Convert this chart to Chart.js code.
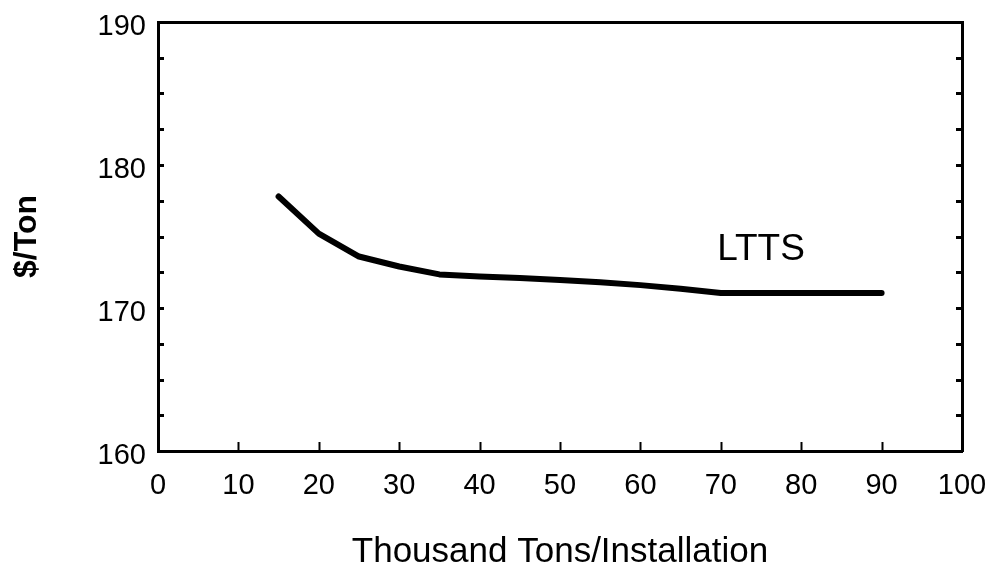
<!DOCTYPE html>
<html>
<head>
<meta charset="utf-8">
<script src="https://cdn.jsdelivr.net/npm/chart.js@4"></script>
<style>
    html, body { margin: 0; padding: 0; background: #fff; }
    #wrap { width: 990px; height: 573px; }
</style>
</head>
<body>
<div id="wrap"><canvas id="costChart" width="990" height="573"></canvas></div>
<script>
// values
const tonsK = [15, 20, 25, 30, 35, 40, 45, 50, 55, 60, 65, 70, 75, 80, 85, 90];
const costLTTS = [177.8, 175.2, 173.6, 172.9, 172.35, 172.2, 172.1, 171.95, 171.8, 171.6, 171.35, 171.05, 171.05, 171.05, 171.05, 171.05];
const xTickValues = [0, 10, 20, 30, 40, 50, 60, 70, 80, 90, 100];
const yTickValues = [160, 170, 180, 190];
const seriesName = "LTTS";
const seriesLabelAt = { x: 75, y: 174.05 };

const FONT = "'Liberation Sans', Arial, Helvetica, sans-serif";

// small inward tick marks + series label, like the original plot
const frameTicks = {
    id: 'frameTicks',
    afterDatasetsDraw(chart) {
        const ctx = chart.ctx;
        const x = chart.scales.x;
        const y = chart.scales.y;
        const area = chart.chartArea;
        ctx.save();
        ctx.strokeStyle = '#000';

        // bottom: every 10
        ctx.lineWidth = 2;
        xTickValues.forEach(v => {
            if (v === x.min || v === x.max) return;
            const px = Math.round(x.getPixelForValue(v)) + 0.5;
            ctx.beginPath();
            ctx.moveTo(px, area.bottom);
            ctx.lineTo(px, area.bottom - 9);
            ctx.stroke();
        });

        // left and right: every 2.5
        ctx.lineWidth = 3;
        for (let v = y.min + 2.5; v < y.max; v += 2.5) {
            const py = Math.round(y.getPixelForValue(v)) + 0.5;
            ctx.beginPath();
            ctx.moveTo(area.left, py);
            ctx.lineTo(area.left + 6, py);
            ctx.moveTo(area.right, py);
            ctx.lineTo(area.right - 6, py);
            ctx.stroke();
        }

        ctx.fillStyle = '#000';
        ctx.font = '37px ' + FONT;
        ctx.textAlign = 'center';
        ctx.textBaseline = 'middle';
        ctx.fillText(seriesName, x.getPixelForValue(seriesLabelAt.x), y.getPixelForValue(seriesLabelAt.y));
        ctx.restore();
    }
};

function fixedTicks(values) {
    return function (scale) {
        scale.ticks = values.map(v => ({ value: v }));
    };
}

const ctx = document.getElementById('costChart').getContext('2d');
new Chart(ctx, {
    type: 'line',
    data: {
        datasets: [{
            label: seriesName,
            data: tonsK.map((t, i) => ({ x: t, y: costLTTS[i] })),
            borderColor: '#000',
            borderWidth: 6,
            borderCapStyle: 'round',
            borderJoinStyle: 'round',
            pointRadius: 0,
            tension: 0,
            fill: false
        }]
    },
    options: {
        responsive: false,
        animation: false,
        layout: { padding: 0 },
        plugins: {
            legend: { display: false },
            tooltip: { enabled: false }
        },
        scales: {
            x: {
                type: 'linear',
                position: 'bottom',
                min: 0,
                max: 100,
                afterBuildTicks: fixedTicks(xTickValues),
                afterFit: function (scale) {
                    scale.height = 122;
                    scale.paddingLeft = 0;
                    scale.paddingRight = 0;
                },
                grid: { display: true, drawOnChartArea: false, drawTicks: false },
                border: { display: true, color: '#000', width: 3 },
                ticks: {
                    color: '#000',
                    padding: 18,
                    maxRotation: 0,
                    font: { family: FONT, size: 29 }
                },
                title: {
                    display: true,
                    text: 'Thousand Tons/Installation',
                    color: '#000',
                    padding: { top: 0, bottom: 0 },
                    font: { family: FONT, size: 35 }
                }
            },
            y: {
                type: 'linear',
                position: 'left',
                min: 160,
                max: 190,
                afterBuildTicks: fixedTicks(yTickValues),
                afterFit: function (scale) {
                    scale.width = 158;
                    scale.paddingTop = 0;
                    scale.paddingBottom = 0;
                },
                grid: { display: true, drawOnChartArea: false, drawTicks: false },
                border: { display: true, color: '#000', width: 3 },
                ticks: {
                    color: '#000',
                    padding: 12,
                    labelOffset: 5,
                    font: { family: FONT, size: 29 }
                },
                title: {
                    display: true,
                    text: '$/Ton',
                    color: '#000',
                    padding: { top: 8, bottom: 0 },
                    font: { family: FONT, size: 32, weight: 'bold' }
                }
            },
            xTop: {
                type: 'linear',
                position: 'top',
                min: 0,
                max: 100,
                afterFit: function (scale) {
                    scale.height = 22;
                    scale.paddingLeft = 0;
                    scale.paddingRight = 0;
                },
                grid: { display: true, drawOnChartArea: false, drawTicks: false },
                border: { display: true, color: '#000', width: 3 },
                ticks: { display: false }
            },
            yRight: {
                type: 'linear',
                position: 'right',
                min: 160,
                max: 190,
                afterFit: function (scale) {
                    scale.width = 28;
                    scale.paddingTop = 0;
                    scale.paddingBottom = 0;
                },
                grid: { display: true, drawOnChartArea: false, drawTicks: false },
                border: { display: true, color: '#000', width: 3 },
                ticks: { display: false }
            }
        }
    },
    plugins: [frameTicks]
});
</script>
</body>
</html>
